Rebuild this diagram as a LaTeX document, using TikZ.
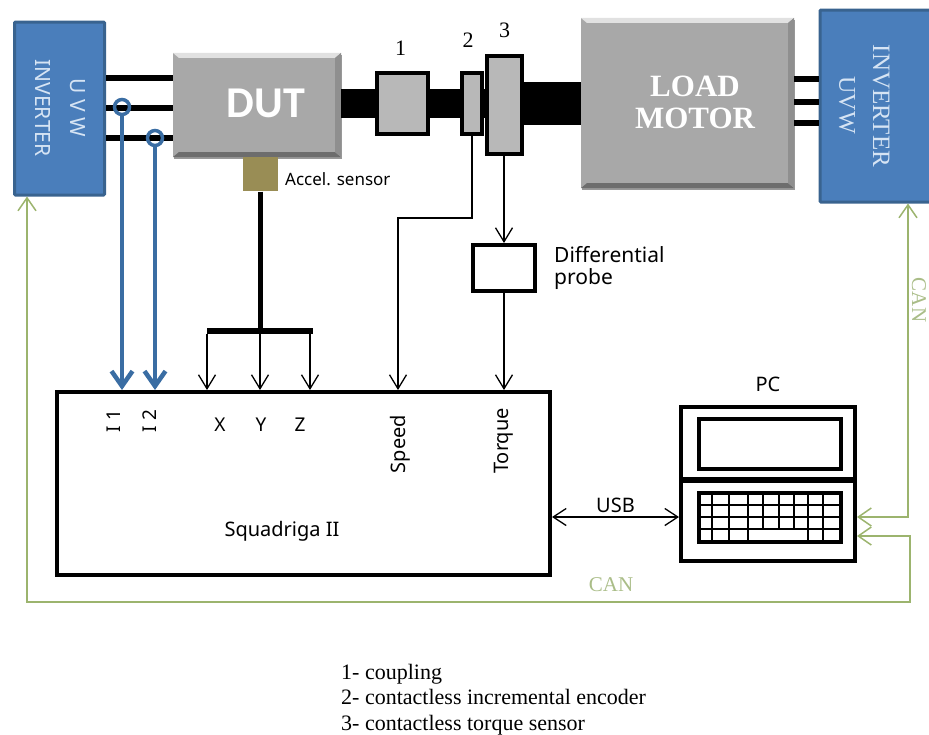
\documentclass[tikz,border=0pt]{standalone}
\usepackage{fontspec}
\setmainfont{Liberation Serif}
\newfontfamily\lblfont{Noto Sans}
\newfontfamily\dutfont{Carlito}
\usetikzlibrary{positioning,calc,shadows,arrows.meta}
\definecolor{invblue}{HTML}{4A7EBB}
\definecolor{invedge}{HTML}{39638F}
\definecolor{invtext}{HTML}{D6E4F4}
\definecolor{curblue}{HTML}{3A6DA3}
\definecolor{machgray}{HTML}{A8A8A8}
\definecolor{blkgray}{HTML}{B8B8B8}
\definecolor{accelc}{HTML}{998D55}
\definecolor{cangreen}{HTML}{9CB46E}
\definecolor{cantext}{HTML}{AABD88}
\newcommand{\fsz}[1]{\fontsize{#1}{#1}\selectfont}
\newcommand{\bevel}[1]{
	\fill[white!65!machgray] (#1.north west) -- (#1.north east) -- ++(-6,5) -- ($(#1.north west)+(6,5)$) -- cycle;
	\fill[black!35!machgray] (#1.south west) -- (#1.south east) -- ++(-6,-5) -- ($(#1.south west)+(6,-5)$) -- cycle;
	\fill[black!15!machgray] (#1.north east) -- (#1.south east) -- ++(-6,-5) -- ($(#1.north east)+(-6,5)$) -- cycle;
}
\tikzset{
  inv/.style={rectangle, rounded corners=1pt, inner sep=0pt, draw=invedge, line width=3pt, fill=invblue},
  invlbl/.style={inner sep=0pt, rotate=-90, text=invtext},
  mach/.style={rectangle, inner sep=0pt, fill=machgray, drop shadow={shadow xshift=1pt, shadow yshift=-2pt, fill=black, opacity=0.4}, text=white},
  blk/.style={rectangle, inner sep=0pt, draw=black, line width=4pt, fill=blkgray},
  wbox/.style={rectangle, inner sep=0pt, draw=black, line width=4pt, fill=white},
  lbl/.style={inner sep=0pt, font=\lblfont\fsz{19}},
  num/.style={inner sep=0pt, font=\fsz{22}},
  wire/.style={line width=6pt, draw=black},
  shaft/.style={line width=29pt, draw=black},
  sig/.style={draw=black, line width=1.3pt, -{Straight Barb[length=14pt,width=17pt]}},
  cur/.style={draw=curblue, line width=4.5pt, -{Straight Barb[length=15pt,width=21pt]}},
  sense/.style={circle, inner sep=0pt, minimum size=15pt, draw=curblue, line width=3.5pt},
  can/.style={draw=cangreen, line width=1.5pt, {Straight Barb[length=13pt,width=18pt]}-{Straight Barb[length=13pt,width=18pt]}}
}
\begin{document}
\begin{tikzpicture}[x=1pt, y=-1pt]
	\useasboundingbox (0,0) rectangle (929,734);
	\node[inv, minimum width=90pt, minimum height=173pt] (invL) at (59.5,108.5) {};
	\node[invlbl, font=\lblfont\fsz{21}] (uvwL) at (78,108) {U V W};
	\node[invlbl, font=\lblfont\fsz{21}] (invtxtL) at (43,108) {INVERTER};
	\node[mach, minimum width=168pt, minimum height=104pt] (dut) at (257,105) {};
	\bevel{dut}
	\node[inner sep=0pt, text=white, font=\dutfont\bfseries\fsz{44}] (duttxt) at (266,103) {DUT};
	\node[rectangle, inner sep=0pt, fill=accelc, minimum width=35pt, minimum height=34pt, below=0pt of dut.south west, xshift=87.5pt] (accel) {};
	\node[lbl, font=\lblfont\fsz{17}, right=7pt of accel, yshift=-5pt] (acceltxt) {Accel. sensor};
	%
	\node[blk, minimum width=51pt, minimum height=61pt] (cpl) at (402.5,103.5) {};
	\node[blk, minimum width=20pt, minimum height=61pt] (enc) at (472,103.5) {};
	\node[blk, minimum width=35pt, minimum height=98pt] (trq) at (504.5,105) {};
	\node[mach, minimum width=213pt, minimum height=170pt] (load) at (687.5,103) {};
	\bevel{load}
	\node[inner sep=0pt, text=white, font=\bfseries\fsz{31}] (loadtxt) at (695,86) {LOAD};
	\node[inner sep=0pt, text=white, font=\bfseries\fsz{31}] (motortxt) at (695,118) {MOTOR};
	\node[inv, minimum width=120pt, minimum height=192pt] (invR) at (880,106) {};
	\node[invlbl, font=\fsz{24}] (uvwR) at (847,105) {UVW};
	\node[invlbl, font=\fsz{25}] (invtxtR) at (881,106) {INVERTER};
	\node[num, above=15pt of cpl, xshift=-2pt] (numA) {1};
	\node[num, above=23pt of enc, xshift=-4pt] (numB) {2};
	\node[num, above=16pt of trq] (numC) {3};
	%
	\node[wbox, minimum width=62pt, minimum height=46pt] (probe) at (504,268) {};
	\node[lbl, align=left, font=\lblfont\fsz{21}, right=17pt of probe] (probetxt) {Differential\\[1pt]probe};
	\node[rectangle, inner sep=0pt, fill=black, minimum width=106pt, minimum height=6pt] (bar) at (260,331) {};
	\node[wbox, minimum width=493pt, minimum height=183pt] (squad) at (303.5,483.5) {};
	\node[lbl, font=\lblfont\fsz{20}] (squadtxt) at (282,531) {Squadriga II};
	\node[lbl, rotate=90] (iA) at (114,421) {I 1};
	\node[lbl, rotate=90] (iB) at (150,421) {I 2};
	\node[lbl] (chX) at (220,425) {X};
	\node[lbl] (chY) at (261,425) {Y};
	\node[lbl] (chZ) at (300,425) {Z};
	\node[lbl, font=\lblfont\fsz{20}, rotate=90] (speedtxt) at (400,444) {Speed};
	\node[lbl, font=\lblfont\fsz{20}, rotate=90] (torquetxt) at (504,441) {Torque};
	%
	\node[wbox, minimum width=174pt, minimum height=72pt] (top) at (768,443) {};
	\node[wbox, minimum width=174pt, minimum height=80pt] (base) at (768,521) {};
	\node[lbl, font=\lblfont\fsz{20}, above=13pt of top] (pctxt) {PC};
	\node[wbox, line width=3.5pt, minimum width=142pt, minimum height=50pt] (screen) at (770,444) {};
	\node[wbox, line width=3.5pt, minimum width=142pt, minimum height=49pt] (keys) at (770,517.5) {};
	\foreach \yy in {505,517,529} \draw[line width=1.4pt] (699,\yy) -- (841,\yy);
	\foreach \xx in {712,729,748,808,823} \draw[line width=1.4pt] (\xx,493) -- (\xx,542);
	\foreach \xx in {763,779,794} \draw[line width=1.4pt] (\xx,493) -- (\xx,529);
	%
	\draw[wire] (invL.east |- 0,78) -- (dut.west |- 0,78);
	\draw[wire] (invL.east |- 0,108) -- (dut.west |- 0,108);
	\draw[wire] (invL.east |- 0,138) -- (dut.west |- 0,138);
	\draw[wire] (load.east |- 0,79) -- (invR.west |- 0,79);
	\draw[wire] (load.east |- 0,102) -- (invR.west |- 0,102);
	\draw[wire] (load.east |- 0,123) -- (invR.west |- 0,123);
	\draw[shaft] (dut.east |- cpl) -- (cpl.west);
	\draw[shaft] (cpl.east) -- (enc.west);
	\draw[shaft] (enc.east) -- (trq.west |- enc);
	\draw[shaft, line width=43pt] (trq.east |- 0,103.5) -- (load.west |- 0,103.5);
	%
	\node[sense] (senseA) at (122,107) {};
	\node[sense] (senseB) at (155,138) {};
	\draw[cur] (senseA.south) -- (squad.north -| senseA);
	\draw[cur] (senseB.south) -- (squad.north -| senseB);
	\draw[line width=5pt] (accel.south) -- (bar.north -| accel);
	\draw[sig] (bar.south -| 207,0) -- (squad.north -| 207,0);
	\draw[sig] (bar.south -| 260,0) -- (squad.north -| 260,0);
	\draw[sig] (bar.south -| 310,0) -- (squad.north -| 310,0);
	\draw[sig] (enc.south) |- (398,218) -- (squad.north -| 398,0);
	\draw[sig] (trq.south -| probe) -- (probe.north);
	\draw[sig] (probe.south) -- (squad.north -| probe);
	\draw[draw=black, line width=1.3pt, {Straight Barb[length=13pt,width=17pt]}-{Straight Barb[length=13pt,width=17pt]}] (squad.east |- 0,517) -- node[above=4pt, lbl, font=\lblfont\fsz{20}] (usbtxt) {USB} (base.west |- 0,517);
	%
	\draw[can] (base.east |- 0,517) -| (invR.south -| 908,0);
	\draw[can] (base.east |- 0,536) -| (910,602) -| (invL.south -| 27,0);
	\node[inner sep=0pt, text=cantext, font=\fsz{21}] (cantxtA) at (611,585) {CAN};
	\node[inner sep=0pt, text=cantext, font=\fsz{21}, rotate=-90] (cantxtB) at (919,300) {CAN};
	%
	\node[inner sep=0pt, align=left, anchor=north west, font=\fsz{22}] (legend) at (341,664) {1- coupling\\[3.5pt]2- contactless incremental encoder\\[3.5pt]3- contactless torque sensor};
\end{tikzpicture}
\end{document}
